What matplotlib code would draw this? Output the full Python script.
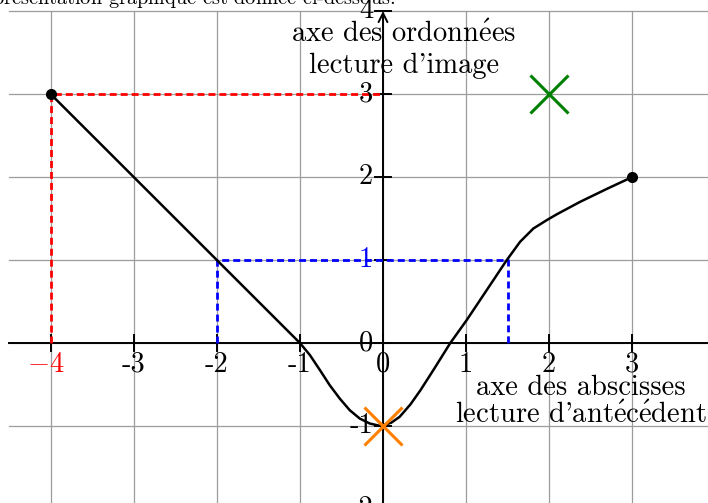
import matplotlib
matplotlib.use("Agg")
import matplotlib.pyplot as plt

plt.rcParams["mathtext.fontset"] = "cm"
plt.rcParams["axes.unicode_minus"] = False

# ---- data ----
curve_x = [-4, -1.12, -1, -0.88, -0.76, -0.64, -0.52, -0.40, -0.28, -0.16, -0.03, 0.10, 0.20, 0.33,
           0.45, 0.61, 0.81, 1.01, 1.21, 1.37, 1.49, 1.65, 1.81, 1.97, 2.09, 2.37, 2.70, 3.0]
curve_y = [3, 0.12, 0, -0.145, -0.325, -0.51, -0.67, -0.81, -0.91, -0.97, -1.0, -0.96, -0.89, -0.74,
           -0.57, -0.32, 0, 0.28, 0.58, 0.82, 1.0, 1.22, 1.38, 1.48, 1.55, 1.70, 1.86, 2.0]
endpoints_x = [-4, 3]
endpoints_y = [3, 2]
red_path_x = [-4, -4, 0]
red_path_y = [0, 3, 3]
blue_path_x = [-2, -2, 1.5, 1.5]
blue_path_y = [0, 1, 1, 0]
green_cross = (2, 3)
orange_cross = (0, -1)
x_ticks = [-4, -3, -2, -1, 0, 1, 2, 3]
x_tick_labels = [r"$-4$", "-3", "-2", "-1", "0", "1", "2", "3"]
y_ticks = [-2, -1, 0, 1, 2, 3, 4]
y_tick_labels = ["-2", "-1", "0", "1", "2", "3", "4"]

FAM = ["cmr10", "DejaVu Serif"]
FS = 20.5


def tex(s):
    return s.replace("é", r"$\mathrm{\acute{e}}$")


fig = plt.figure(figsize=(7.08, 5.03), dpi=100)
ax = fig.add_axes([0, 0, 1, 1])
ax.set_xlim(-4.609, 3.911)
ax.set_ylim(-1.928, 4.133)
ax.axis("off")

grid_c = "#9c9c9c"
for gx in x_ticks:
    ax.plot([gx, gx], [-2.5, 4], color=grid_c, lw=0.9, zorder=1)
for gy in y_ticks:
    ax.plot([-4.5, 4.5], [gy, gy], color=grid_c, lw=0.9, zorder=1)

# axes
ax.plot([-4.5, 4.5], [0, 0], color="black", lw=1.4, zorder=3)
ax.annotate("", xy=(0, 4.0), xytext=(0, -2.5),
            arrowprops=dict(arrowstyle="->", lw=1.4, color="black", mutation_scale=16,
                            shrinkA=0, shrinkB=0), zorder=3)
for t in x_ticks:
    ax.plot([t, t], [-0.1, 0.1], color="black", lw=1.4, zorder=3)
for t in y_ticks:
    ax.plot([-0.1, 0.1], [t, t], color="black", lw=1.4, zorder=3)

# tick labels
for t, lab in zip(x_ticks, x_tick_labels):
    col = "red" if t == -4 else "black"
    dx = -0.06 if t == -4 else 0.0
    ax.text(t + dx, -0.1, lab, ha="center", va="top", fontsize=FS, family=FAM, color=col, zorder=5)
for t, lab in zip(y_ticks, y_tick_labels):
    col = "blue" if t == 1 else "black"
    ax.text(-0.12, t, lab, ha="right", va="center", fontsize=FS, family=FAM, color=col, zorder=5)

# dashed readings
ax.plot(red_path_x, red_path_y, color="red", lw=2.0, dashes=(2.5, 1.45), zorder=4)
ax.plot(blue_path_x, blue_path_y, color="blue", lw=2.0, dashes=(2.5, 1.45), zorder=4)

# curve
ax.plot(curve_x, curve_y, color="black", lw=1.8, zorder=6, solid_joinstyle="round")
ax.plot(endpoints_x, endpoints_y, "o", color="black", ms=7, zorder=7)

# crosses
ax.plot(*green_cross, marker="x", color="#008000", ms=27, mew=2.2, zorder=8)
ax.plot(*orange_cross, marker="x", color="#ff8000", ms=27, mew=2.2, zorder=8)

# labels
ax.text(0.25, 3.63, tex("axe des ordonnées"), ha="center", va="baseline", fontsize=FS, family=FAM, zorder=5)
ax.text(0.25, 3.25, "lecture d'image", ha="center", va="baseline", fontsize=FS, family=FAM, zorder=5)
ax.text(2.38, -0.63, "axe des abscisses", ha="center", va="baseline", fontsize=FS, family=FAM, zorder=5)
ax.text(2.38, -0.96, tex("lecture d'antécédent"), ha="center", va="baseline", fontsize=FS, family=FAM, zorder=5)

ax.text(0.145, 4.078, tex("Sa représentation graphique est donnée ci-dessous."), ha="right", va="baseline",
        fontsize=14.6, family=FAM, zorder=5)

fig.savefig("out.png", dpi=100)
